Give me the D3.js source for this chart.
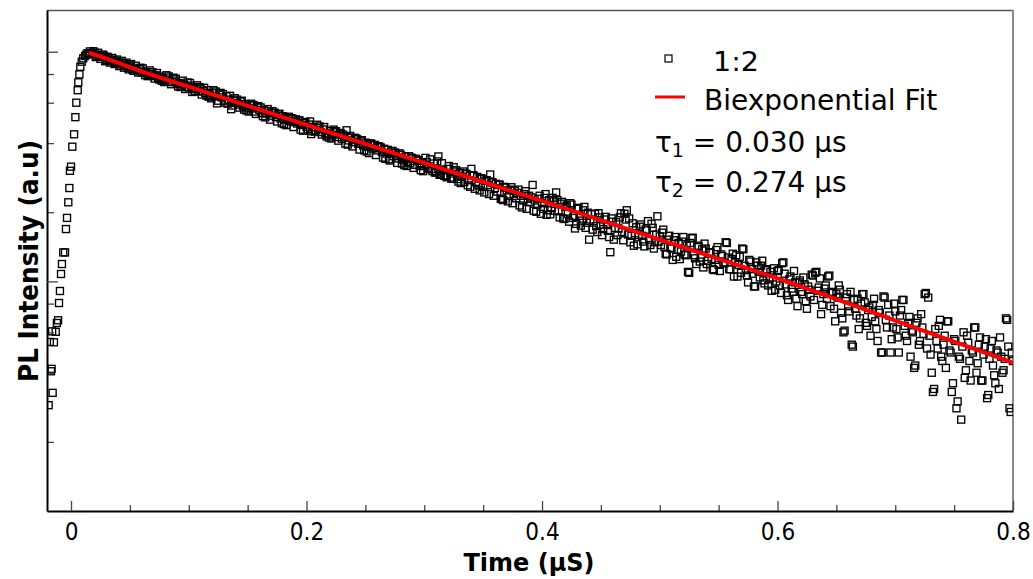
<!DOCTYPE html>
<html>
<head>
<meta charset="utf-8">
<script src="https://cdn.jsdelivr.net/npm/d3@7"></script>
<style>
  body { margin: 0; background: #fff; }
  svg { display: block; }
</style>
</head>
<body>
<svg id="chart"></svg>
<script>
// rise of the decay (time in ns, counts)
const riseNs = [-19, -18, -17, -16.5, -16, -15.6, -14.5, -13, -12, -11, -10.2, -9.4, -8.5, -7.7, -6.6, -5.1, -4.3, -3.4, -2.3, -1.4,
  -0.9, 0, 1.1, 2.6, 3.7, 4.5, 5.7, 6.2, 7.1, 7.9, 9.1, 10.4, 11.9, 13, 14, 15, 16];
const riseCounts = [28.9, 54.5, 40.6, 41.6, 60.6, 32.7, 54.3, 60.3, 65.9, 67.7, 80.5, 90.8, 107.7, 119, 133.7, 133.7, 169, 189, 221, 255,
  303, 316, 386, 437, 519, 600, 680, 736, 797, 860, 905, 936, 958, 972, 985, 978, 1003];

// decay, even channels (ns)
const decayNs = [
  18, 20, 22, 24, 26, 28, 30, 32, 34, 36, 38, 40, 42, 44, 46, 48, 50, 52, 54, 56, 58, 60,
  62, 64, 66, 68, 70, 72, 74, 76, 78, 80, 82, 84, 86, 88, 90, 92, 94, 96, 98, 100,
  102, 104, 106, 108, 110, 112, 114, 116, 118, 120, 122, 124, 126, 128, 130, 132, 134, 136, 138, 140,
  142, 144, 146, 148, 150, 152, 154, 156, 158, 160, 162, 164, 166, 168, 170, 172, 174, 176, 178, 180,
  182, 184, 186, 188, 190, 192, 194, 196, 198, 200,
  202, 204, 206, 208, 210, 212, 214, 216, 218, 220, 222, 224, 226, 228, 230, 232, 234, 236, 238, 240,
  242, 244, 246, 248, 250, 252, 254, 256, 258, 260, 262, 264, 266, 268, 270, 272, 274, 276, 278, 280,
  282, 284, 286, 288, 290, 292, 294, 296, 298, 300,
  302, 304, 306, 308, 310, 312, 314, 316, 318, 320, 322, 324, 326, 328, 330, 332, 334, 336, 338, 340,
  342, 344, 346, 348, 350, 352, 354, 356, 358, 360, 362, 364, 366, 368, 370, 372, 374, 376, 378, 380,
  382, 384, 386, 388, 390, 392, 394, 396, 398, 400,
  402, 404, 406, 408, 410, 412, 414, 416, 418, 420, 422, 424, 426, 428, 430, 432, 434, 436, 438, 440,
  442, 444, 446, 448, 450, 452, 454, 456, 458, 460, 462, 464, 466, 468, 470, 472, 474, 476, 478, 480,
  482, 484, 486, 488, 490, 492, 494, 496, 498, 500,
  502, 504, 506, 508, 510, 512, 514, 516, 518, 520, 522, 524, 526, 528, 530, 532, 534, 536, 538, 540,
  542, 544, 546, 548, 550, 552, 554, 556, 558, 560, 562, 564, 566, 568, 570, 572, 574, 576, 578, 580,
  582, 584, 586, 588, 590, 592, 594, 596, 598, 600,
  602, 604, 606, 608, 610, 612, 614, 616, 618, 620, 622, 624, 626, 628, 630, 632, 634, 636, 638, 640,
  642, 644, 646, 648, 650, 652, 654, 656, 658, 660, 662, 664, 666, 668, 670, 672, 674, 676, 678, 680,
  682, 684, 686, 688, 690, 692, 694, 696, 698, 700,
  702, 704, 706, 708, 710, 712, 714, 716, 718, 720, 722, 724, 726, 728, 730, 732, 734, 736, 738, 740,
  742, 744, 746, 748, 750, 752, 754, 756, 758, 760, 762, 764, 766, 768, 770, 772, 774, 776, 778, 780,
  782, 784, 786, 788, 790, 792, 794, 796, 798, 800
];
const decayCounts = [
  975, 991, 962, 958, 951, 962, 921, 934, 911, 918, 893, 901, 880, 892, 869, 861, 872, 839, 846, 828, 840, 811,
  820, 808, 797, 801, 783, 790, 768, 779, 761, 753, 766, 741, 737, 749, 724, 731, 712, 721, 703, 698,
  712, 689, 698, 671, 690, 676, 662, 681, 649, 660, 641, 596, 650, 633, 612, 640, 619, 562, 612, 598,
  589, 607, 580, 592, 571, 584, 566, 549, 573, 558, 541, 556, 538, 551, 527, 540, 519, 533, 512, 524,
  506, 519, 498, 511, 494, 487, 503, 480, 490, 471,
  482, 438, 470, 455, 466, 447, 459, 441, 436, 452, 433, 446, 425, 437, 418, 429, 455, 411, 422, 404,
  419, 397, 410, 391, 402, 386, 399, 379, 393, 372, 385, 366, 378, 360, 340, 369, 351, 362, 343, 356,
  338, 349, 331, 327, 343, 322, 335, 318, 327, 318,
  331, 310, 308, 326, 298, 350, 293, 307, 290, 309, 295, 283, 301, 279, 297, 286, 271, 293, 276, 309,
  289, 270, 262, 281, 258, 274, 263, 292, 270, 255, 246, 264, 228, 258, 249, 236, 257, 240, 230, 251,
  236, 226, 247, 229, 221, 263, 225, 216, 236, 219,
  231, 195, 226, 209, 223, 244, 202, 218, 188, 211, 197, 219, 189, 170, 207, 193, 184, 211, 180, 152,
  196, 183, 174, 198, 177, 169, 191, 166, 134, 182, 171, 159, 190, 164, 197, 204, 188, 158, 143, 172,
  159, 177, 149, 168, 183, 144, 171, 148, 192, 157,
  163, 141, 131, 158, 139, 151, 128, 147, 135, 156, 130, 110, 147, 155, 126, 141, 122, 138, 146, 119,
  134, 125, 112, 137, 118, 131, 121, 148, 127, 113, 132, 121, 105, 128, 139, 117, 106, 124, 113, 95,
  121, 110, 117, 101, 113, 96, 110, 104, 92, 111,
  96, 120, 108, 87, 102, 93, 111, 84, 99, 90, 104, 82, 95, 86, 106, 109, 91, 103, 79, 93,
  84, 106, 90, 76, 88, 96, 73, 60, 85, 78, 90, 52, 76, 84, 69, 88, 81, 64, 77, 70,
  84, 62, 75, 49, 86, 68, 79, 49, 63, 74,
  57, 71, 83, 64, 55, 70, 61, 42, 66, 53, 72, 59, 89, 85, 48, 33, 62, 51, 68, 45,
  58, 67, 50, 33, 56, 28, 47, 25, 60, 41, 54, 37, 49, 63, 44, 57, 37, 52, 31, 46,
  55, 39, 50, 34, 47, 41, 69, 52, 27, 45
];

// decay, odd channels (ns)
const decayOddNs = [
  19, 21, 23, 25, 27, 29, 31, 33, 35, 37, 39, 41, 43, 45, 47, 49, 51, 53, 55, 57, 59,
  61, 63, 65, 67, 69, 71, 73, 75, 77, 79, 81, 83, 85, 87, 89, 91, 93, 95, 97, 99,
  101, 103, 105, 107, 109, 111, 113, 115, 117, 119, 121, 123, 125, 127, 129, 131, 133, 135, 137, 139,
  141, 143, 145, 147, 149, 151, 153, 155, 157, 159, 161, 163, 165, 167, 169, 171, 173, 175, 177, 179,
  181, 183, 185, 187, 189, 191, 193, 195, 197, 199,
  201, 203, 205, 207, 209, 211, 213, 215, 217, 219, 221, 223, 225, 227, 229, 231, 233, 235, 237, 239,
  241, 243, 245, 247, 249, 251, 253, 255, 257, 259, 261, 263, 265, 267, 269, 271, 273, 275, 277, 279,
  281, 283, 285, 287, 289, 291, 293, 295, 297, 299,
  301, 303, 305, 307, 309, 311, 313, 315, 317, 319, 321, 323, 325, 327, 329, 331, 333, 335, 337, 339,
  341, 343, 345, 347, 349, 351, 353, 355, 357, 359, 361, 363, 365, 367, 369, 371, 373, 375, 377, 379,
  381, 383, 385, 387, 389, 391, 393, 395, 397, 399,
  401, 403, 405, 407, 409, 411, 413, 415, 417, 419, 421, 423, 425, 427, 429, 431, 433, 435, 437, 439,
  441, 443, 445, 447, 449, 451, 453, 455, 457, 459, 461, 463, 465, 467, 469, 471, 473, 475, 477, 479,
  481, 483, 485, 487, 489, 491, 493, 495, 497, 499,
  501, 503, 505, 507, 509, 511, 513, 515, 517, 519, 521, 523, 525, 527, 529, 531, 533, 535, 537, 539,
  541, 543, 545, 547, 549, 551, 553, 555, 557, 559, 561, 563, 565, 567, 569, 571, 573, 575, 577, 579,
  581, 583, 585, 587, 589, 591, 593, 595, 597, 599,
  601, 603, 605, 607, 609, 611, 613, 615, 617, 619, 621, 623, 625, 627, 629, 631, 633, 635, 637, 639,
  641, 643, 645, 647, 649, 651, 653, 655, 657, 659, 661, 663, 665, 667, 669, 671, 673, 675, 677, 679,
  681, 683, 685, 687, 689, 691, 693, 695, 697, 699,
  701, 703, 705, 707, 709, 711, 713, 715, 717, 719, 721, 723, 725, 727, 729, 731, 733, 735, 737, 739,
  741, 743, 745, 747, 749, 751, 753, 755, 757, 759, 761, 763, 765, 767, 769, 771, 773, 775, 777, 779,
  781, 783, 785, 787, 789, 791, 793, 795, 797, 799
];
const decayOddCounts = [
  1005, 948, 990, 931, 972, 909, 951, 897, 940, 884, 925, 866, 913, 852, 897, 838, 884, 826, 869, 812, 852,
  846, 791, 783, 829, 815, 764, 808, 757, 748, 738, 790, 781, 722, 771, 763, 706, 702, 748, 688, 735,
  731, 668, 676, 714, 702, 651, 697, 644, 637, 627, 680, 671, 612, 662, 654, 600, 594, 643, 583, 628,
  619, 571, 612, 560, 555, 549, 594, 586, 536, 580, 572, 524, 518, 563, 506, 551, 543, 497, 537, 488,
  484, 479, 521, 514, 470, 508, 500, 458, 453, 494,
  459, 497, 451, 449, 481, 473, 436, 470, 428, 423, 419, 458, 451, 410, 443, 436, 398, 394, 430, 387,
  422, 416, 375, 412, 372, 368, 362, 398, 392, 355, 388, 383, 346, 342, 374, 336, 370, 364, 328, 361,
  326, 321, 318, 351, 346, 312, 342, 337, 305, 302,
  345, 309, 340, 302, 298, 333, 291, 327, 288, 284, 318, 280, 314, 305, 272, 268, 301, 295, 262, 258,
  290, 253, 285, 249, 280, 244, 276, 240, 270, 236, 266, 263, 229, 226, 256, 223, 251, 219, 248, 243,
  214, 210, 240, 207, 236, 232, 203, 201, 229, 197,
  207, 240, 204, 196, 231, 203, 226, 190, 222, 187, 214, 182, 216, 193, 178, 209, 175, 204, 171, 199,
  186, 168, 197, 164, 190, 159, 186, 176, 156, 188, 152, 181, 170, 198, 151, 186, 160, 148, 179, 162,
  145, 173, 158, 142, 167, 152, 178, 139, 160, 149,
  144, 168, 132, 152, 140, 124, 156, 137, 125, 149, 131, 143, 109, 154, 130, 119, 143, 127, 115, 139,
  123, 133, 113, 124, 141, 111, 129, 120, 147, 113, 125, 105, 130, 118, 109, 138, 112, 99, 122, 108,
  95, 117, 104, 123, 98, 112, 102, 91, 114, 100,
  112, 89, 121, 97, 83, 105, 90, 99, 78, 101, 88, 97, 76, 92, 107, 83, 110, 94, 72, 88,
  96, 105, 78, 89, 67, 85, 92, 69, 61, 88, 74, 53, 83, 71, 62, 80, 88, 66, 75, 58,
  79, 67, 55, 73, 49, 85, 63, 71, 56, 80,
  62, 49, 75, 83, 58, 66, 47, 60, 43, 69, 55, 63, 88, 51, 58, 40, 34, 55, 64, 47,
  53, 42, 67, 49, 36, 55, 30, 46, 52, 38, 58, 45, 50, 63, 40, 53, 37, 48, 56, 32,
  51, 43, 36, 49, 57, 40, 46, 68, 28, 49
];

// biexponential fit
const fitNs = [15, 30, 60, 100, 200, 300, 400, 500, 600, 700, 800];
const fitCounts = [990, 934, 822, 705, 480, 328, 224, 152, 103, 67.5, 44.2];

const xTicksMajor = [0, 0.2, 0.4, 0.6, 0.8];
const xTicksMinor = [0.05, 0.1, 0.15, 0.25, 0.3, 0.35, 0.45, 0.5, 0.55, 0.65, 0.7, 0.75];
const yTicksMajor = [100, 1000];
const yTicksMinor = [20, 40, 60, 80, 200, 400, 600, 800];

const legendLabels = ["1:2", "Biexponential Fit"];
const tauLabels = [["1", "0.030"], ["2", "0.274"]];

let width = 1033;
let height = 579;
let margin = ({top: 10, right: 20, bottom: 68, left: 47});

let toPoint = (t, v) => ({t: t / 1000, v: v});
let points = riseNs.map((t, i) => toPoint(t, riseCounts[i]))
  .concat(decayNs.map((t, i) => toPoint(t, decayCounts[i])))
  .concat(decayOddNs.map((t, i) => toPoint(t, decayOddCounts[i])));
let fit = fitNs.map((t, i) => toPoint(t, fitCounts[i]));

let x = d3.scaleLinear()
  .domain([-0.0204, 0.8])
  .range([margin.left, width - margin.right]);

let y = d3.scaleLog()
  .domain([10, 1520])
  .range([height - margin.bottom, margin.top]);

const svg = d3.select('#chart').attr('width', width).attr('height', height)
  .style('font-family', 'DejaVu Sans, Verdana, sans-serif');

svg.append('clipPath').attr('id', 'plotclip')
  .append('rect')
  .attr('x', margin.left).attr('y', margin.top)
  .attr('width', width - margin.right - margin.left)
  .attr('height', height - margin.bottom - margin.top);

// frame top and right
svg.append('line')
  .attr('x1', margin.left).attr('x2', width - margin.right)
  .attr('y1', margin.top + 0.5).attr('y2', margin.top + 0.5)
  .attr('stroke', '#555').attr('stroke-width', 1.5);
svg.append('line')
  .attr('x1', width - margin.right).attr('x2', width - margin.right)
  .attr('y1', margin.top).attr('y2', height - margin.bottom)
  .attr('stroke', '#888').attr('stroke-width', 2);

// data squares
svg.append('g').attr('clip-path', 'url(#plotclip)')
  .selectAll('rect')
  .data(points)
  .join('rect')
  .attr('x', d => x(d.t) - 3.5)
  .attr('y', d => y(d.v) - 3.5)
  .attr('width', 7)
  .attr('height', 7)
  .attr('fill', 'none')
  .attr('stroke', '#000')
  .attr('stroke-width', 1.35);

// fit curve
let line = d3.line()
  .x(d => x(d.t))
  .y(d => y(d.v))
  .curve(d3.curveMonotoneX);

svg.append('path')
  .datum(fit)
  .attr('clip-path', 'url(#plotclip)')
  .attr('d', line)
  .attr('fill', 'none')
  .attr('stroke', '#ff0000')
  .attr('stroke-width', 4);

// x axis
let xAxisMinor = g => g
  .attr('transform', `translate(0,${height - margin.bottom})`)
  .call(d3.axisBottom(x).tickValues(xTicksMinor).tickSize(-6).tickFormat(''))
  .call(g => g.select('.domain').remove());

let xAxis = g => g
  .attr('transform', `translate(0,${height - margin.bottom})`)
  .call(d3.axisBottom(x).tickValues(xTicksMajor).tickSizeInner(-10).tickSizeOuter(0).tickPadding(12)
    .tickFormat(d => d === 0 ? '0' : d3.format('.1f')(d)));

svg.append('g').call(xAxisMinor);
const xAx = svg.append('g').call(xAxis);
xAx.select('.domain').attr('stroke', '#000').attr('stroke-width', 2);
xAx.selectAll('text')
  .attr('fill', '#000')
  .style('font-family', 'DejaVu Sans Condensed, Liberation Sans, sans-serif')
  .style('font-stretch', 'condensed')
  .style('font-size', '24px');

// y axis (ticks point into the plot, no labels)
let yAxisMinor = g => g
  .attr('transform', `translate(${margin.left},0)`)
  .call(d3.axisRight(y).tickValues(yTicksMinor).tickSize(7).tickFormat(''))
  .call(g => g.select('.domain').remove());

let yAxis = g => g
  .attr('transform', `translate(${margin.left},0)`)
  .call(d3.axisRight(y).tickValues(yTicksMajor).tickSizeInner(11).tickSizeOuter(0).tickFormat(''));

svg.append('g').call(yAxisMinor);
const yAx = svg.append('g').call(yAxis);
yAx.select('.domain').attr('stroke', '#000').attr('stroke-width', 2);
svg.selectAll('.tick line').attr('stroke', '#444').attr('stroke-width', 1.3);

// axis titles
svg.append('text')
  .attr('x', 529)
  .attr('y', 571)
  .attr('text-anchor', 'middle')
  .attr('font-weight', 'bold')
  .attr('font-size', 24)
  .text('Time (µS)');

svg.append('text')
  .attr('transform', `translate(38,261) rotate(-90)`)
  .attr('text-anchor', 'middle')
  .attr('font-weight', 'bold')
  .attr('font-size', 26)
  .attr('textLength', 242)
  .attr('lengthAdjust', 'spacingAndGlyphs')
  .text('PL Intensity (a.u)');

// legend
const legend = svg.append('g');
legend.append('rect')
  .attr('x', 665).attr('y', 55)
  .attr('width', 7).attr('height', 7)
  .attr('fill', 'none').attr('stroke', '#000').attr('stroke-width', 1.2);
legend.append('text')
  .attr('x', 713).attr('y', 71)
  .attr('font-size', 26)
  .attr('textLength', 46)
  .attr('lengthAdjust', 'spacingAndGlyphs')
  .text(legendLabels[0]);
legend.append('line')
  .attr('x1', 655).attr('x2', 685)
  .attr('y1', 97).attr('y2', 97)
  .attr('stroke', '#ff0000').attr('stroke-width', 3);
legend.append('text')
  .attr('x', 704).attr('y', 110)
  .attr('font-size', 28)
  .text(legendLabels[1]);

tauLabels.forEach((d, i) => {
  const t = legend.append('text')
    .attr('x', 655).attr('y', 151.5 + i * 40)
    .attr('font-size', 28);
  t.append('tspan').text('τ');
  t.append('tspan').attr('font-size', 19).attr('dy', 5).text(d[0]);
  t.append('tspan').attr('dy', -5).text(` = ${d[1]} µs`);
});
</script>
</body>
</html>
